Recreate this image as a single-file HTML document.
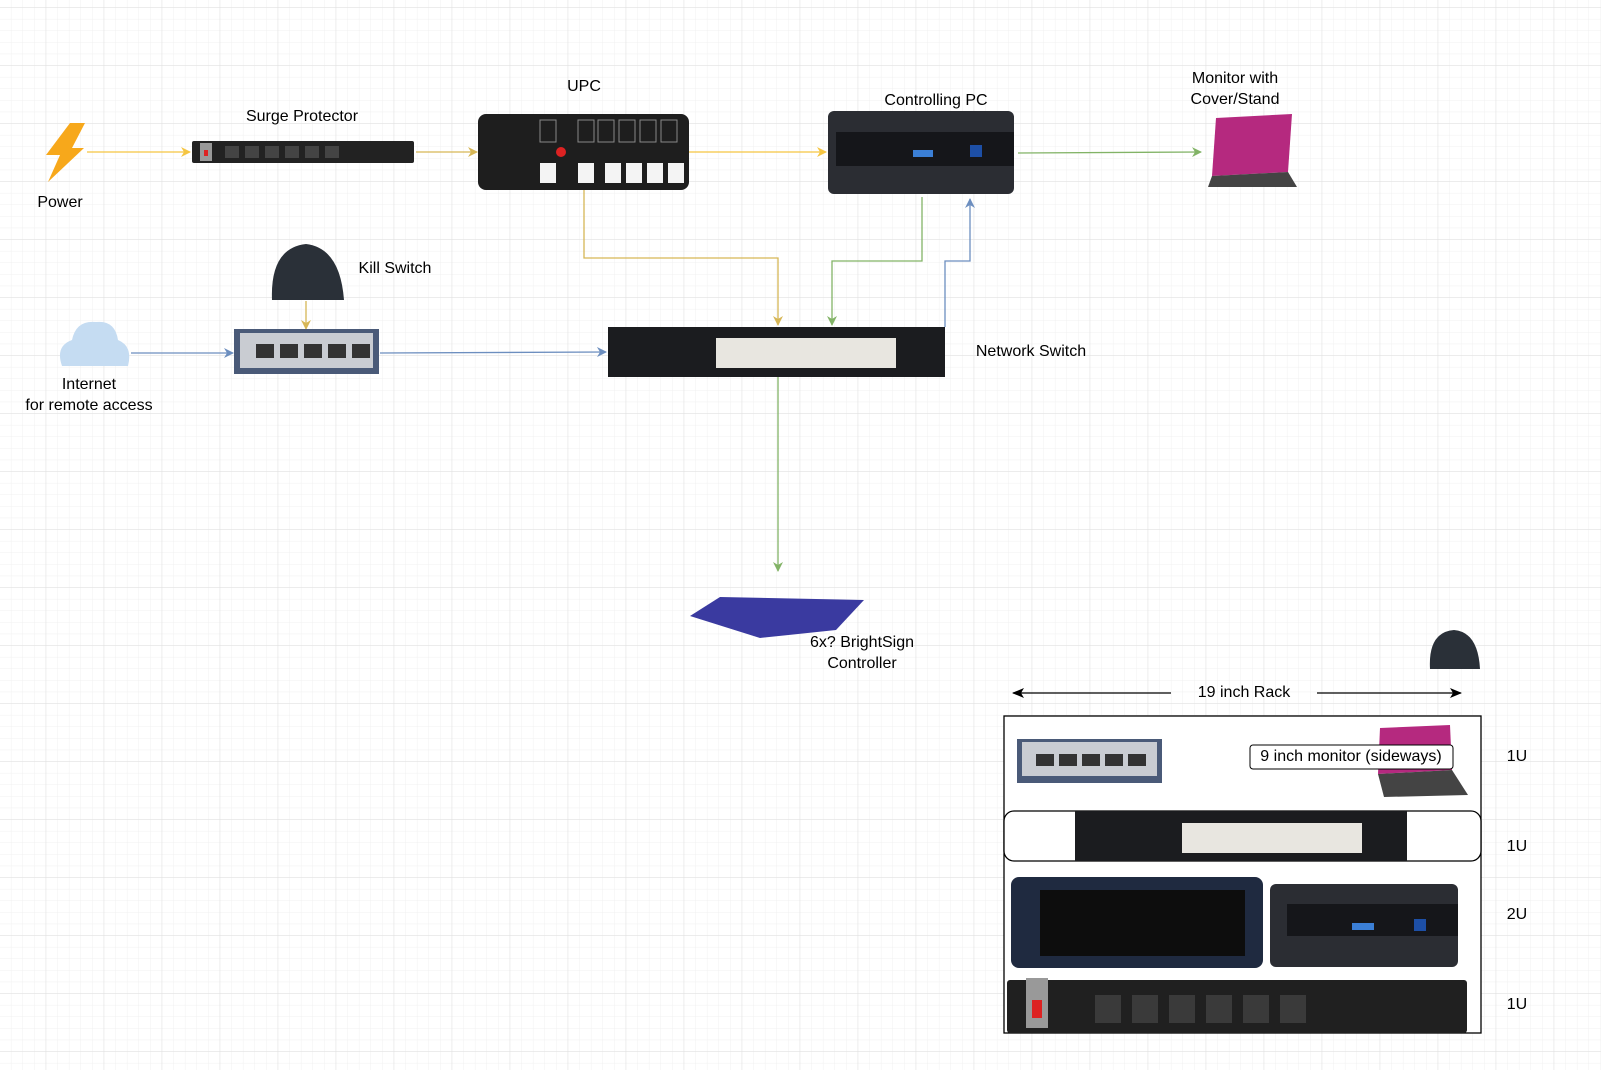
<!DOCTYPE html>
<html><head><meta charset="utf-8"><style>
body{margin:0;width:1601px;height:1070px;overflow:hidden;background:#fff;font-family:"Liberation Sans",sans-serif}
.t{position:absolute;font-size:16px;color:#000;text-align:center;white-space:nowrap;transform:translateX(-50%)}
</style></head><body>
<svg width="1601" height="1070" style="position:absolute;left:0;top:0">
<defs>
<pattern id="mi" x="45.7" y="7.3" width="11.6" height="11.6" patternUnits="userSpaceOnUse"><path d="M0 0H11.6M0 0V11.6" stroke="#f0f0f0" stroke-width="1" fill="none"/></pattern>
<pattern id="ma" x="45.7" y="7.3" width="58" height="58" patternUnits="userSpaceOnUse"><path d="M0 0H58M0 0V58" stroke="#e0e0e0" stroke-width="1" fill="none"/></pattern>
<marker id="ay" markerWidth="10" markerHeight="10" refX="9" refY="5" orient="auto" markerUnits="userSpaceOnUse"><path d="M0 0L10 5L0 10L3 5Z" fill="#f5c542"/></marker>
<marker id="ay2" markerWidth="10" markerHeight="10" refX="9" refY="5" orient="auto" markerUnits="userSpaceOnUse"><path d="M0 0L10 5L0 10L3 5Z" fill="#d6b656"/></marker>
<marker id="ag" markerWidth="10" markerHeight="10" refX="9" refY="5" orient="auto" markerUnits="userSpaceOnUse"><path d="M0 0L10 5L0 10L3 5Z" fill="#82b366"/></marker>
<marker id="ab" markerWidth="10" markerHeight="10" refX="9" refY="5" orient="auto" markerUnits="userSpaceOnUse"><path d="M0 0L10 5L0 10L3 5Z" fill="#6c8ebf"/></marker>
<marker id="ak" markerWidth="12" markerHeight="10" refX="11" refY="5" orient="auto" markerUnits="userSpaceOnUse"><path d="M0 0L12 5L0 10L3 5Z" fill="#000"/></marker>
</defs>
<rect width="1601" height="1070" fill="url(#mi)"/>
<rect width="1601" height="1070" fill="url(#ma)"/>

<g fill="none" stroke-width="1.3">
<path d="M87 152H190" stroke="#f5c542" marker-end="url(#ay)"/>
<path d="M416 152H477" stroke="#d6b656" marker-end="url(#ay2)"/>
<path d="M689 152H826" stroke="#f5c542" marker-end="url(#ay)"/>
<path d="M1018 153L1201 152" stroke="#82b366" marker-end="url(#ag)"/>
<path d="M584 190V258H778V325" stroke="#d6b656" marker-end="url(#ay2)"/>
<path d="M922 197V261H832V325" stroke="#82b366" marker-end="url(#ag)"/>
<path d="M945 327V261H970V199" stroke="#6c8ebf" marker-end="url(#ab)"/>
<path d="M306 301V329" stroke="#d6b656" marker-end="url(#ay2)"/>
<path d="M131 353H233" stroke="#6c8ebf" marker-end="url(#ab)"/>
<path d="M380 353L606 352" stroke="#6c8ebf" marker-end="url(#ab)"/>
<path d="M778 377V571" stroke="#82b366" marker-end="url(#ag)"/>
<path d="M1171 693H1013" stroke="#000" marker-end="url(#ak)"/>
<path d="M1317 693H1461" stroke="#000" marker-end="url(#ak)"/>
</g>

<path d="M70 123H85L72 148H84L48 182L60 155H46Z" fill="#f7a81b"/>
<rect x="192" y="141" width="222" height="22" rx="2" fill="#222"/>
<rect x="200" y="143" width="12" height="18" fill="#999"/><rect x="204" y="150" width="4" height="6" fill="#d22"/>
<g fill="#444"><rect x="225" y="146" width="14" height="12"/><rect x="245" y="146" width="14" height="12"/><rect x="265" y="146" width="14" height="12"/><rect x="285" y="146" width="14" height="12"/><rect x="305" y="146" width="14" height="12"/><rect x="325" y="146" width="14" height="12"/></g>
<rect x="478" y="114" width="211" height="76" rx="8" fill="#1e1e1e"/>
<g fill="#f4f4f4"><rect x="578" y="163" width="16" height="20"/><rect x="605" y="163" width="16" height="20"/><rect x="626" y="163" width="16" height="20"/><rect x="647" y="163" width="16" height="20"/><rect x="668" y="163" width="16" height="20"/></g>
<g fill="none" stroke="#888"><rect x="540" y="120" width="16" height="22"/><rect x="578" y="120" width="16" height="22"/><rect x="598" y="120" width="16" height="22"/><rect x="619" y="120" width="16" height="22"/><rect x="640" y="120" width="16" height="22"/><rect x="661" y="120" width="16" height="22"/></g>
<rect x="540" y="163" width="16" height="20" fill="#f4f4f4"/><circle cx="561" cy="152" r="5" fill="#d22"/>
<rect x="828" y="111" width="186" height="83" rx="6" fill="#2b2d33"/>
<rect x="836" y="132" width="178" height="34" fill="#15161a"/>
<rect x="913" y="150" width="20" height="7" fill="#3b7fd6"/><rect x="970" y="145" width="12" height="12" fill="#1d4fa6"/>
<polygon points="1216,118 1292,114 1288,172 1212,176" fill="#b5297f"/>
<polygon points="1212,176 1288,172 1297,187 1208,187" fill="#444"/>
<path d="M272 300Q270 248 306 244Q340 248 344 300Z" fill="#2a3038"/>
<path d="M62 366Q55 346 72 340Q76 320 96 322Q115 320 118 340Q133 346 128 366Z" fill="#c5dcf2"/>
<rect x="234" y="329" width="145" height="45" fill="#4a5a78"/><rect x="240" y="333" width="133" height="35" fill="#c9ccd2"/>
<g fill="#333"><rect x="256" y="344" width="18" height="14"/><rect x="280" y="344" width="18" height="14"/><rect x="304" y="344" width="18" height="14"/><rect x="328" y="344" width="18" height="14"/><rect x="352" y="344" width="18" height="14"/></g>
<rect x="608" y="327" width="337" height="50" fill="#1b1c1f"/>
<rect x="716" y="338" width="180" height="30" fill="#e8e6e0"/>
<polygon points="690,616 720,597 864,600 836,630 760,638" fill="#3a3aa0"/>
<path d="M1430 669Q1428 632 1454 630Q1478 632 1480 669Z" fill="#2a3038"/>

<rect x="1004" y="716" width="477" height="317" fill="#fff" stroke="#000" stroke-width="1.3"/>
<rect x="1017" y="739" width="145" height="44" fill="#4a5a78"/><rect x="1022" y="742" width="135" height="34" fill="#c9ccd2"/>
<g fill="#333"><rect x="1036" y="754" width="18" height="12"/><rect x="1059" y="754" width="18" height="12"/><rect x="1082" y="754" width="18" height="12"/><rect x="1105" y="754" width="18" height="12"/><rect x="1128" y="754" width="18" height="12"/></g>
<polygon points="1380,728 1450,725 1452,770 1378,774" fill="#b5297f"/>
<polygon points="1378,774 1452,770 1468,795 1384,797" fill="#444"/>
<rect x="1250" y="745" width="203" height="24" rx="3" fill="#fff" stroke="#000"/>
<rect x="1004" y="811" width="477" height="50" rx="10" fill="#fff" stroke="#000" stroke-width="1.3"/>
<rect x="1075" y="811" width="332" height="50" fill="#1b1c1f"/><rect x="1182" y="823" width="180" height="30" fill="#e8e6e0"/>
<rect x="1011" y="877" width="252" height="91" rx="8" fill="#1f2a40"/><rect x="1040" y="890" width="205" height="66" fill="#0d0d0d"/>
<rect x="1270" y="884" width="188" height="83" rx="6" fill="#2b2d33"/><rect x="1287" y="904" width="171" height="32" fill="#15161a"/>
<rect x="1352" y="923" width="22" height="7" fill="#3b7fd6"/><rect x="1414" y="919" width="12" height="12" fill="#1d4fa6"/>
<rect x="1007" y="980" width="460" height="53" rx="3" fill="#202020"/>
<rect x="1026" y="978" width="22" height="50" fill="#999"/><rect x="1032" y="1000" width="10" height="18" fill="#d22"/>
<g fill="#3a3a3a"><rect x="1095" y="995" width="26" height="28"/><rect x="1132" y="995" width="26" height="28"/><rect x="1169" y="995" width="26" height="28"/><rect x="1206" y="995" width="26" height="28"/><rect x="1243" y="995" width="26" height="28"/><rect x="1280" y="995" width="26" height="28"/></g>
</svg>

<div class="t" style="left:60px;top:194px">Power</div>
<div class="t" style="left:302px;top:108px">Surge Protector</div>
<div class="t" style="left:584px;top:78px">UPC</div>
<div class="t" style="left:936px;top:92px">Controlling PC</div>
<div class="t" style="left:1235px;top:68px;line-height:21px">Monitor with<br>Cover/Stand</div>
<div class="t" style="left:395px;top:260px">Kill Switch</div>
<div class="t" style="left:89px;top:374px;line-height:21px">Internet<br>for remote access</div>
<div class="t" style="left:1031px;top:343px">Network Switch</div>
<div class="t" style="left:862px;top:632px;line-height:21px">6x? BrightSign<br>Controller</div>
<div class="t" style="left:1244px;top:684px">19 inch Rack</div>
<div class="t" style="left:1351px;top:748px">9 inch monitor (sideways)</div>
<div class="t" style="left:1517px;top:748px">1U</div>
<div class="t" style="left:1517px;top:838px">1U</div>
<div class="t" style="left:1517px;top:906px">2U</div>
<div class="t" style="left:1517px;top:996px">1U</div>
</body></html>
